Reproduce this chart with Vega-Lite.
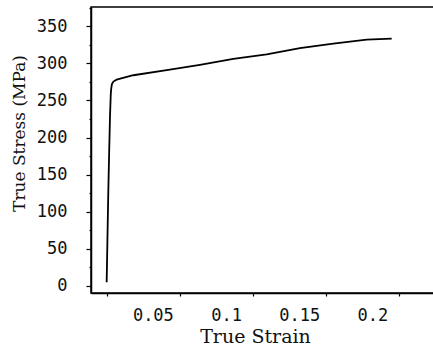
{
  "$schema": "https://vega.github.io/schema/vega-lite/v6.json",
  "autosize": {"type": "none"},
  "padding": {"left": 91, "top": 7, "right": 0, "bottom": 57},
  "width": 360,
  "height": 286,
  "background": "white",
  "config": {
    "view": {"stroke": "black", "strokeWidth": 1.5},
    "axis": {
      "domainColor": "black", "domainWidth": 1.5,
      "tickColor": "black", "tickWidth": 1.2,
      "grid": false,
      "labelFont": "DejaVu Sans Mono", "labelFontSize": 17, "labelColor": "#111",
      "titleFont": "DejaVu Serif", "titleFontSize": 17, "titleFontWeight": "normal", "titleColor": "#111"
    }
  },
  "data": {"values": [
    {"strain": 0.0, "stress": 5},
    {"strain": 0.0005, "stress": 60},
    {"strain": 0.0011, "stress": 125},
    {"strain": 0.0017, "stress": 180},
    {"strain": 0.0023, "stress": 230},
    {"strain": 0.0028, "stress": 258},
    {"strain": 0.0031, "stress": 266},
    {"strain": 0.0036, "stress": 272},
    {"strain": 0.0046, "stress": 275.5},
    {"strain": 0.0068, "stress": 278},
    {"strain": 0.0182, "stress": 284},
    {"strain": 0.041, "stress": 291},
    {"strain": 0.0637, "stress": 298},
    {"strain": 0.0865, "stress": 306},
    {"strain": 0.1093, "stress": 312},
    {"strain": 0.132, "stress": 320.5},
    {"strain": 0.1548, "stress": 326.5},
    {"strain": 0.1776, "stress": 332},
    {"strain": 0.1947, "stress": 333.3}
  ]},
  "mark": {"type": "line", "color": "black", "strokeWidth": 1.8, "clip": true},
  "encoding": {
    "x": {
      "field": "strain", "type": "quantitative",
      "scale": {"domain": [-0.0107, 0.2352], "nice": false, "zero": false},
      "axis": {
        "title": "True Strain",
        "values": [0, 0.05, 0.1, 0.15, 0.2],
        "format": "~g",
        "labelExpr": "datum.value == 0 ? '' : datum.label",
        "labelOffset": -27,
        "tickSize": 3,
        "labelPadding": 11,
        "titleFontSize": 19,
        "titleX": 164,
        "titleY": 49,
        "titleBaseline": "alphabetic"
      }
    },
    "y": {
      "field": "stress", "type": "quantitative",
      "scale": {"domain": [-9.5, 376], "nice": false, "zero": false},
      "axis": {
        "title": "True Stress (MPa)",
        "values": [0, 25, 50, 75, 100, 125, 150, 175, 200, 225, 250, 275, 300, 325, 350, 375],
        "labelExpr": "datum.value % 50 == 0 ? datum.label : ''",
        "tickSize": {"condition": {"test": "datum.value % 50 == 0", "value": 5}, "value": 2},
        "labelPadding": 19,
        "titleY": 126,
        "titleX": -72,
        "titleBaseline": "middle"
      }
    }
  }
}
